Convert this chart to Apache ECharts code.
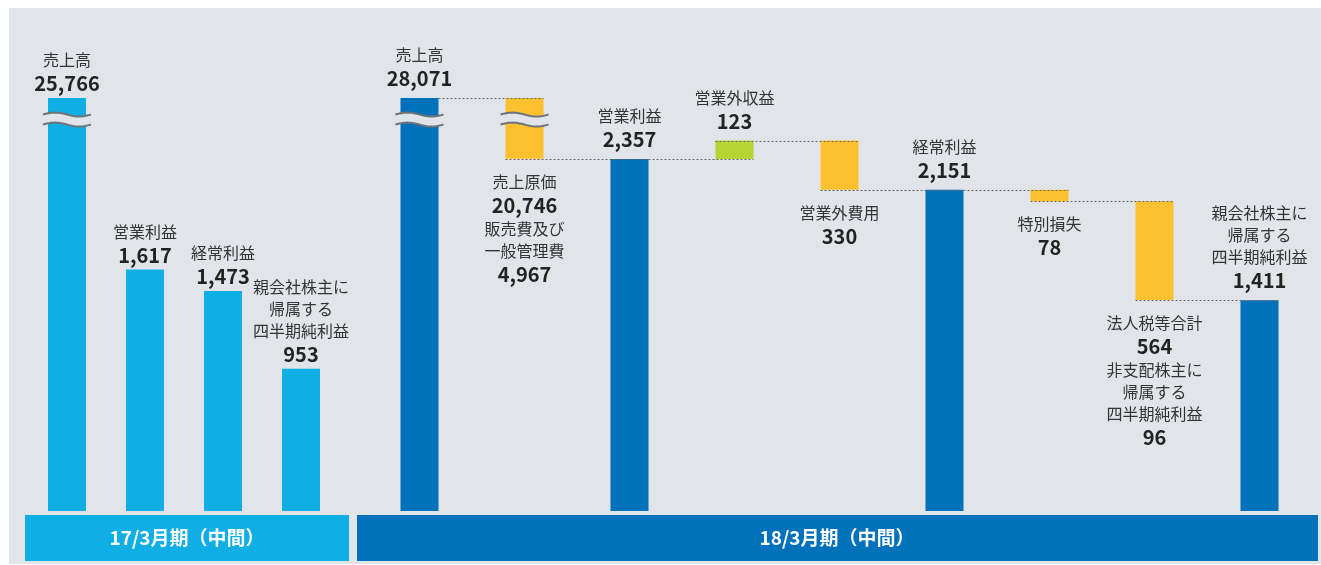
<!DOCTYPE html>
<html>
<head>
<meta charset="utf-8">
<script src="https://cdn.jsdelivr.net/npm/echarts@6/dist/echarts.min.js"></script>
<style>
  html, body { margin: 0; padding: 0; background: #fff; }
  #chart { width: 1321px; height: 565px; }
</style>
</head>
<body>
<div id="chart"></div>
<script>
// 17/3月期(中間)
const prevNames = ['売上高', '営業利益', '経常利益', '親会社株主に\n帰属する\n四半期純利益'];
const prevValues = [25766, 1617, 1473, 953];

// 18/3月期(中間) ウォーターフォール
const curKinds = ['total', 'down', 'total', 'up', 'down', 'total', 'down', 'down', 'total'];
const curNames = [
  ['売上高'],
  ['売上原価', '販売費及び\n一般管理費'],
  ['営業利益'],
  ['営業外収益'],
  ['営業外費用'],
  ['経常利益'],
  ['特別損失'],
  ['法人税等合計', '非支配株主に\n帰属する\n四半期純利益'],
  ['親会社株主に\n帰属する\n四半期純利益']
];
const curValues = [
  [28071],
  [20746, 4967],
  [2357],
  [123],
  [330],
  [2151],
  [78],
  [564, 96],
  [1411]
];

const periodLabels = ['17/3月期（中間）', '18/3月期（中間）'];

// 省略表示（波線）の高さ
const breakShown = 2765;
const breakAt = 2620;

const FONT = '"Noto Sans CJK JP", "Noto Sans", sans-serif';
const BG = '#e1e5e9';
const LIGHT = '#0fafe5';
const DARK = '#0071bb';
const YELLOW = '#fdc02f';
const GREEN = '#b6d433';
const BAR_W = 38;

const show = v => Math.min(v, breakShown);
const fmt = v => v.toLocaleString('en-US');

function labelText(names, values) {
  const lines = [];
  names.forEach((nm, i) => {
    nm.split('\n').forEach(s => lines.push('{n|' + s + '}'));
    lines.push('{v|' + fmt(values[i]) + '}');
  });
  return lines.join('\n');
}

const rich = {
  n: { fontFamily: FONT, fontSize: 16, lineHeight: 22, color: '#333' },
  v: { fontFamily: FONT, fontSize: 20, fontWeight: 'bold', lineHeight: 25, color: '#222' }
};

// 前期のバー
const prevData = prevValues.map((v, i) => ({
  value: show(v),
  label: { formatter: labelText([prevNames[i]], [v]) }
}));
const prevBreaks = [];
prevValues.forEach((v, i) => { if (v > breakShown) prevBreaks.push([i, breakAt]); });

// 当期のウォーターフォール
const baseData = [], bodyData = [], levels = [], floating = [], curBreaks = [];
let level = 0;
curKinds.forEach((k, i) => {
  const amt = curValues[i].reduce((a, b) => a + b, 0);
  let lo, hi;
  if (k === 'total') { lo = 0; hi = amt; level = amt; }
  else if (k === 'down') { lo = level - amt; hi = level; level = lo; }
  else { lo = level; hi = level + amt; level = hi; }
  levels.push(k === 'total' ? amt : level);
  floating.push(k === 'total' ? 0 : 1);
  if (hi > breakShown) curBreaks.push([i, breakAt]);
  baseData.push(show(lo));
  const color = k === 'total' ? DARK : (k === 'up' ? GREEN : YELLOW);
  bodyData.push({
    value: show(hi) - show(lo),
    itemStyle: { color: color },
    label: {
      position: k === 'down' ? 'bottom' : 'top',
      distance: k === 'down' ? 12 : 7,
      formatter: labelText(curNames[i], curValues[i])
    }
  });
});
// 点線（各バーの間の水準）
const connectors = [];
for (let i = 0; i < curKinds.length - 1; i++) {
  connectors.push([i, show(levels[i]), floating[i]]);
}

function renderBreak(params, api) {
  const c = api.coord([api.value(0), api.value(1)]);
  const half = 24, amp = 2, gap = 10;
  const wave = dy => {
    const p = [];
    for (let j = 0; j <= 24; j++) {
      const t = j / 24;
      p.push([c[0] - half + t * 2 * half, c[1] + dy - amp * Math.sin(t * 2 * Math.PI)]);
    }
    return p;
  };
  const top = wave(-gap / 2), bot = wave(gap / 2);
  return {
    type: 'group',
    children: [
      { type: 'polygon', shape: { points: top.concat(bot.slice().reverse()) }, style: { fill: BG } },
      { type: 'polyline', shape: { points: top }, style: { stroke: '#6e7479', lineWidth: 2, fill: null } },
      { type: 'polyline', shape: { points: bot }, style: { stroke: '#6e7479', lineWidth: 2, fill: null } }
    ]
  };
}

function renderConnector(params, api) {
  const i = api.value(0);
  const a = api.coord([i, api.value(1)]);
  const b = api.coord([i + 1, api.value(1)]);
  const x1 = api.value(2) ? a[0] - BAR_W / 2 : a[0] + BAR_W / 2;
  const x2 = b[0] + BAR_W / 2;
  const y = Math.round(a[1]) + 0.5;
  return {
    type: 'line',
    shape: { x1: x1, y1: y, x2: x2, y2: y },
    style: { stroke: '#666', lineWidth: 1, lineDash: [2, 2] }
  };
}

const chart = echarts.init(document.getElementById('chart'));
chart.setOption({
  animation: false,
  backgroundColor: '#fff',
  textStyle: { fontFamily: FONT },
  graphic: [
    { type: 'rect', z: -10, shape: { x: 9, y: 8, width: 1312, height: 556 }, style: { fill: BG } },
    { type: 'rect', shape: { x: 25, y: 515, width: 324, height: 46 }, style: { fill: LIGHT } },
    { type: 'rect', shape: { x: 357, y: 515, width: 961, height: 46 }, style: { fill: DARK } },
    { type: 'text', x: 187, y: 538, style: { text: periodLabels[0], fill: '#fff', font: 'bold 19px ' + FONT, align: 'center', verticalAlign: 'middle' } },
    { type: 'text', x: 837, y: 538, style: { text: periodLabels[1], fill: '#fff', font: 'bold 19px ' + FONT, align: 'center', verticalAlign: 'middle' } }
  ],
  grid: [
    { left: 28, width: 312, top: 18, bottom: 54 },
    { left: 367, width: 945, top: 18, bottom: 54 }
  ],
  xAxis: [
    { type: 'category', gridIndex: 0, data: prevNames, show: false },
    { type: 'category', gridIndex: 1, data: curNames.map(n => n.join('/')), show: false }
  ],
  yAxis: [
    { type: 'value', gridIndex: 0, min: 0, max: 3300, show: false },
    { type: 'value', gridIndex: 1, min: 0, max: 3300, show: false }
  ],
  series: [
    {
      type: 'bar', xAxisIndex: 0, yAxisIndex: 0, barWidth: BAR_W, z: 2,
      itemStyle: { color: LIGHT },
      label: { show: true, position: 'top', distance: 2, align: 'center', rich: rich },
      data: prevData
    },
    {
      type: 'custom', xAxisIndex: 0, yAxisIndex: 0, z: 5,
      renderItem: renderBreak, data: prevBreaks
    },
    {
      type: 'bar', xAxisIndex: 1, yAxisIndex: 1, stack: 'wf', barWidth: BAR_W,
      itemStyle: { color: 'transparent' }, silent: true, data: baseData
    },
    {
      type: 'bar', xAxisIndex: 1, yAxisIndex: 1, stack: 'wf', barWidth: BAR_W, z: 2,
      label: { show: true, align: 'center', rich: rich },
      data: bodyData
    },
    {
      type: 'custom', xAxisIndex: 1, yAxisIndex: 1, z: 4,
      renderItem: renderConnector, data: connectors
    },
    {
      type: 'custom', xAxisIndex: 1, yAxisIndex: 1, z: 5,
      renderItem: renderBreak, data: curBreaks
    }
  ]
});
</script>
</body>
</html>
